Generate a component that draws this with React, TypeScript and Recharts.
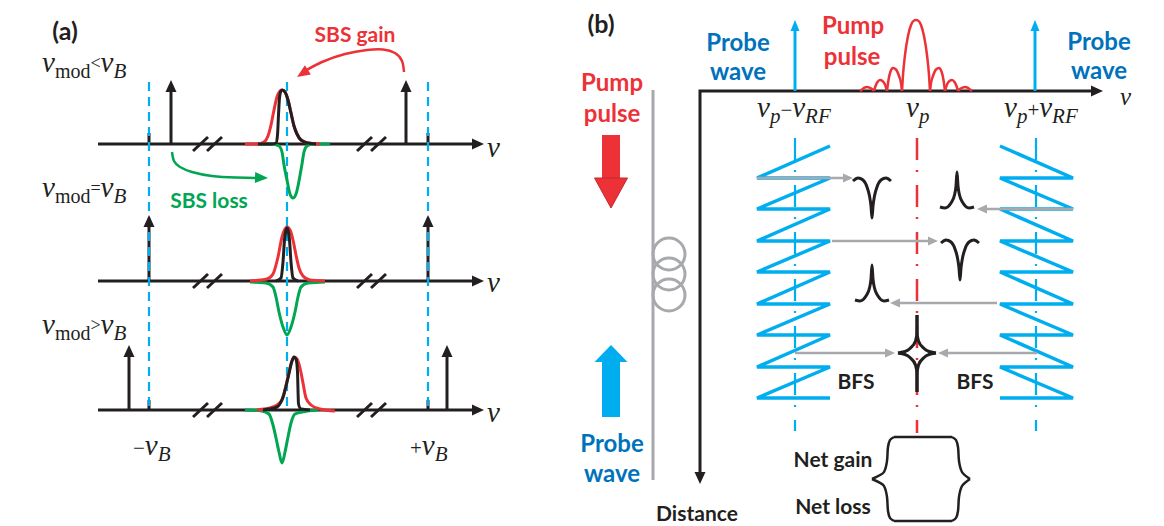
import React from 'react';
import { ComposedChart, Line, Scatter, XAxis, YAxis } from 'recharts';

type Pt = { x: number; y: number };
const toPts = (arr: number[][]): Pt[] => arr.map(([x, y]) => ({ x, y }));

const BLACK = '#231F20';
const RED = '#EC3237';
const GREEN = '#00A651';
const SKY = '#00AEEF';
const BLUE_TEXT = '#0072BC';
const GRAY = '#A7A9AC';
const SANS = 'Lato, "Open Sans", sans-serif';
const SERIF = '"Liberation Serif", "DejaVu Serif", serif';

// ---------------- Panel (a) ----------------
const aRows = [144, 281, 410];
const aAxes = aRows.map((y) => [[98, y], [474, y]]);
const aStems = [
  [[171, 144], [171, 90]], [[406, 144], [406, 90]],
  [[149, 281], [149, 225]], [[428, 281], [428, 225]],
  [[129, 410], [129, 355]], [[447, 410], [447, 355]],
];
const aTicks = [
  [[149, 144], [149, 133]], [[428, 144], [428, 133]],
  [[149, 410], [149, 400]], [[428, 410], [428, 400]],
];
const aSlashes = aRows.flatMap((y) => [
  [[193, y + 7], [208, y - 7]], [[207, y + 7], [222, y - 7]],
  [[357, y + 7], [372, y - 7]], [[371, y + 7], [386, y - 7]],
]);
const aBlueDashed = [[[149, 82], [149, 410]], [[287, 82], [287, 410]], [[428, 82], [428, 410]]];

const redPulses = [
  [[245, 144], [258, 144], [264, 142], [268, 136], [271, 125], [274, 110], [277, 97], [280, 91], [282, 90], [285, 92], [288, 100], [291, 113], [294, 126], [297, 134], [301, 140], [308, 143], [320, 144]],
  [[250, 281], [267, 279], [273, 274], [278, 257], [282, 237], [285, 229], [287, 227], [290, 230], [293, 240], [296, 255], [299, 268], [303, 276], [310, 280], [325, 281]],
  [[257, 410], [273, 407], [282, 400], [287, 381], [291, 364], [294, 357], [297, 359], [300, 368], [303, 383], [306, 398], [311, 405], [320, 409], [335, 411]],
];
const blackPulses = [
  [[258, 144], [272, 144], [276, 143], [277.5, 135], [278.5, 115], [279.5, 98], [281, 91], [282.5, 90], [285, 92], [288, 100], [291, 113], [294, 126], [297, 134], [301, 140], [308, 143], [316, 144]],
  [[276, 281], [281, 278], [283, 262], [284.5, 240], [286, 230], [287, 228], [288, 230], [289.5, 240], [291, 262], [293, 278], [298, 281]],
  [[263, 410], [277, 407], [283, 397], [288, 378], [292, 361], [294, 357], [296, 359], [297.5, 372], [298, 390], [298.5, 404], [301, 409], [310, 410]],
];
const greenPulses = [
  [[257, 144], [272, 144], [279, 146], [282, 152], [284, 165], [287, 180], [290, 194], [293, 198], [296, 194], [299, 181], [302, 164], [304, 152], [307, 146], [313, 144], [330, 144]],
  [[250, 282], [266, 283], [273, 287], [276, 297], [279, 312], [283, 327], [287, 335], [291, 327], [295, 312], [298, 297], [301, 287], [308, 283], [325, 282]],
  [[245, 410], [262, 411], [269, 414], [273, 425], [276, 438], [279, 452], [282, 463], [285, 452], [288, 437], [291, 423], [295, 414], [302, 412], [318, 410]],
];
const gainArrowCurve = [[404, 72], [402, 61], [395, 53], [383, 49.5], [367, 50], [345, 54], [322, 62], [305, 71]];
const lossArrowCurve = [[172, 152], [174, 161], [180, 167], [192, 172], [212, 176], [236, 177.5], [259, 178]];

// ---------------- Panel (b) ----------------
const bAxis = [[1094, 91], [700, 91], [700, 475]];
const bProbeStems = [[[795, 91], [795, 29]], [[1035, 91], [1035, 29]]];
const sincLobes = [
  [[860, 91], [862, 89.5], [864.5, 87.7], [867, 87], [869.5, 87.6], [872, 89], [874, 91]],
  [[874, 91], [875.5, 86], [877.5, 82], [880, 80], [882.5, 81], [885, 84.5], [887, 91]],
  [[887, 91], [888.5, 80], [890.5, 71.5], [893, 68], [896, 69.5], [899, 76], [901, 83], [902, 91]],
  [[902, 91], [903, 75], [905, 55], [908, 36], [911, 25], [914, 20.5], [916, 20], [918, 20.5], [921, 25], [924, 36], [927, 55], [929, 75], [930, 91]],
  [[930, 91], [931, 83], [933, 76], [936, 69.5], [939, 68], [941.5, 71.5], [943.5, 80], [945, 91]],
  [[945, 91], [947, 84.5], [949.5, 81], [952, 80], [954.5, 82], [956.5, 86], [958, 91]],
  [[958, 91], [960, 89], [962.5, 87.6], [965, 87], [967.5, 87.7], [970, 89.5], [972, 91]],
];
const zigLeft = [[830, 146], [757, 178], [830, 178], [757, 209], [830, 209], [757, 241], [830, 241], [757, 272], [830, 272], [757, 304], [830, 304], [757, 335], [830, 335], [757, 367], [830, 367], [757, 398], [830, 398]];
const zigRight = [[1000, 146], [1073, 178], [1000, 178], [1073, 209], [1000, 209], [1073, 241], [1000, 241], [1073, 272], [1000, 272], [1073, 304], [1000, 304], [1073, 335], [1000, 335], [1073, 367], [1000, 367], [1073, 398], [1000, 398]];
const blueCenterLines = [[[795, 138], [795, 431]], [[1036, 138], [1036, 431]]];
const redCenterLine = [[917, 138], [917, 433]];
const grayArrows = [
  [[757, 178], [846, 178]],
  [[832, 241], [931, 241]],
  [[1073, 209], [984, 209]],
  [[997, 303], [897, 303]],
  [[795, 353], [888, 353]],
  [[1037, 353], [945, 353]],
];
const lineshapes = [
  // loss-like (valley) shapes
  [[853, 181], [858, 178], [863, 180], [867, 187], [869.5, 196], [871, 206], [872, 218], [873, 206], [874.5, 196], [877, 187], [881, 180], [886, 178], [891, 181]],
  [[941, 243], [946, 240], [951, 242], [955, 249], [957.5, 258], [959, 268], [960, 280], [961, 268], [962.5, 258], [965, 249], [969, 242], [974, 240], [979, 243]],
  // gain-like (peak) shapes
  [[940, 207], [945, 208], [951, 203], [954.5, 195], [956, 186], [957, 172], [958, 186], [959.5, 195], [963, 203], [969, 208], [974, 207]],
  [[855, 300], [860, 301], [866, 296], [869.5, 288], [871, 279], [872, 265], [873, 279], [874.5, 288], [878, 296], [884, 301], [889, 300]],
];
const starArcs = [
  [[917, 315], [917, 331], [915.5, 341], [911, 347.5], [905, 351.5], [898, 353]],
  [[917, 315], [917, 331], [918.5, 341], [923, 347.5], [929, 351.5], [936, 353]],
  [[898, 353], [905, 354.5], [911, 358.5], [915.5, 365], [917, 375], [917, 392]],
  [[936, 353], [929, 354.5], [923, 358.5], [918.5, 365], [917, 375], [917, 392]],
];
const bracketHalves = [
  [[894, 437], [890, 440], [888, 447], [887, 461], [884, 472], [872, 479]],
  [[872, 479], [884, 486], [887, 497], [888, 511], [890, 518], [894, 521]],
  [[952, 437], [956, 440], [958, 447], [959, 461], [962, 472], [970, 479]],
  [[970, 479], [962, 486], [959, 497], [958, 511], [956, 518], [952, 521]],
];
const bracketEdges = [[[894, 437], [952, 437]], [[894, 521], [952, 521]]];
const fiberLine = [[653, 90], [653, 480]];
const coilLoops = [{ x: 669, y: 254 }, { x: 669, y: 274 }, { x: 669, y: 295 }];
const pumpShaft = [[611, 135], [611, 180]];
const probeShaft = [[611, 417], [611, 360]];

// arrowheads: tip position + direction (deg, 0 = right, 90 = down)
const aHeads = [
  { x: 484, y: 144, a: 0 }, { x: 484, y: 281, a: 0 }, { x: 484, y: 410, a: 0 },
  { x: 171, y: 80, a: -90 }, { x: 406, y: 80, a: -90 },
  { x: 149, y: 215, a: -90 }, { x: 428, y: 215, a: -90 },
  { x: 129, y: 345, a: -90 }, { x: 447, y: 345, a: -90 },
  { x: 1103, y: 91, a: 0 }, { x: 700, y: 484, a: 90 },
];
const gainHead = [{ x: 297, y: 77, a: 147 }];
const lossHead = [{ x: 268, y: 178, a: 2 }];
const skyHeads = [{ x: 795, y: 20, a: -90 }, { x: 1035, y: 20, a: -90 }];
const grayHeads = [
  { x: 853, y: 178, a: 0 }, { x: 938, y: 241, a: 0 }, { x: 977, y: 209, a: 180 },
  { x: 890, y: 303, a: 180 }, { x: 895, y: 353, a: 0 }, { x: 938, y: 353, a: 180 },
];
const pumpHead = [{ x: 611, y: 208, a: 90 }];
const probeHead = [{ x: 611, y: 345, a: -90 }];

// ---------------- Texts ----------------
const panelTags = [{ x: 65, y: 30, t: '(a)' }, { x: 601, y: 23, t: '(b)' }];
const blackWords = [
  { x: 856, y: 380, t: 'BFS' }, { x: 975, y: 380, t: 'BFS' },
  { x: 833, y: 458, t: 'Net gain' }, { x: 833, y: 505, t: 'Net loss' },
  { x: 697, y: 512, t: 'Distance' },
];
const redSmallWords = [{ x: 355, y: 33, t: 'SBS gain' }];
const greenWords = [{ x: 209, y: 199, t: 'SBS loss' }];
const redWords = [
  { x: 853, y: 24, t: 'Pump' }, { x: 852, y: 55, t: 'pulse' },
  { x: 612, y: 81, t: 'Pump' }, { x: 612, y: 112, t: 'pulse' },
];
const blueWords = [
  { x: 738, y: 41, t: 'Probe' }, { x: 738, y: 70, t: 'wave' },
  { x: 1099, y: 40, t: 'Probe' }, { x: 1099, y: 69, t: 'wave' },
  { x: 612, y: 442, t: 'Probe' }, { x: 612, y: 472, t: 'wave' },
];
// math labels: [text, kind] kinds: v = variable, va = axis variable, s = subscript, si = italic subscript, o = raised operator, n = operator
const mathLabels = [
  { x: 42, y: 72, parts: [['ν', 'v'], ['mod', 's'], ['<', 'o'], ['ν', 'v'], ['B', 'si']] },
  { x: 42, y: 197, parts: [['ν', 'v'], ['mod', 's'], ['=', 'o'], ['ν', 'v'], ['B', 'si']] },
  { x: 42, y: 334, parts: [['ν', 'v'], ['mod', 's'], ['>', 'o'], ['ν', 'v'], ['B', 'si']] },
  { x: 133, y: 455, parts: [['−', 'n'], ['ν', 'v'], ['B', 'si']] },
  { x: 410, y: 455, parts: [['+', 'n'], ['ν', 'v'], ['B', 'si']] },
  { x: 487, y: 157, parts: [['ν', 'v']] },
  { x: 487, y: 292, parts: [['ν', 'v']] },
  { x: 487, y: 422, parts: [['ν', 'v']] },
  { x: 1120, y: 105, parts: [['ν', 'va']] },
  { x: 757, y: 117, parts: [['ν', 'v'], ['p', 'si'], ['−', 'n'], ['ν', 'v'], ['RF', 'si']] },
  { x: 906, y: 117, parts: [['ν', 'v'], ['p', 'si']] },
  { x: 1004, y: 117, parts: [['ν', 'v'], ['p', 'si'], ['+', 'n'], ['ν', 'v'], ['RF', 'si']] },
];

const kindStyle: Record<string, { size: number; italic: boolean; off: number }> = {
  v: { size: 29, italic: true, off: 0 },
  va: { size: 25, italic: true, off: 0 },
  s: { size: 20, italic: false, off: 6 },
  si: { size: 21, italic: true, off: 6 },
  o: { size: 18, italic: false, off: -3 },
  n: { size: 21, italic: false, off: 0 },
};

const MathShape = (props: any) => {
  const { cx, cy, payload } = props;
  let cur = 0;
  return (
    <text x={cx} y={cy} fontFamily={SERIF} fill={BLACK}>
      {payload.parts.map((p: string[], i: number) => {
        const st = kindStyle[p[1]];
        const dy = st.off - cur;
        cur = st.off;
        return (
          <tspan key={i} dy={dy} fontSize={st.size} fontStyle={st.italic ? 'italic' : 'normal'}>
            {p[0]}
          </tspan>
        );
      })}
    </text>
  );
};

const textShape = (fill: string, size: number) => (props: any) => {
  const { cx, cy, payload } = props;
  return (
    <text x={cx} y={cy} textAnchor="middle" dominantBaseline="central" fontFamily={SANS} fontWeight={700} fontSize={size} fill={fill}>
      {payload.t}
    </text>
  );
};

const headShape = (fill: string, len: number, wid: number, stroke?: string) => (props: any) => {
  const { cx, cy, payload } = props;
  return (
    <polygon
      transform={`translate(${cx},${cy}) rotate(${payload.a})`}
      points={`0,0 ${-len},${-wid / 2} ${-len},${wid / 2}`}
      fill={fill}
      stroke={stroke || 'none'}
      strokeWidth={stroke ? 1 : 0}
    />
  );
};

const circleShape = (props: any) => {
  const { cx, cy } = props;
  return <circle cx={cx} cy={cy} r={16} fill="none" stroke={GRAY} strokeWidth={3} />;
};

let keyCounter = 0;
const seg = (arr: number[][], stroke: string, width: number, extra: any = {}) => (
  <Line
    key={`l${keyCounter++}`}
    data={toPts(arr)}
    dataKey="y"
    type="linear"
    stroke={stroke}
    strokeWidth={width}
    dot={false}
    activeDot={false}
    isAnimationActive={false}
    legendType="none"
    {...extra}
  />
);

const sc = (data: any[], shape: any) => (
  <Scatter key={`s${keyCounter++}`} data={data} shape={shape} isAnimationActive={false} legendType="none" />
);

export default function App() {
  keyCounter = 0;
  const dashDot = '22 10 2 13';
  return (
    <div style={{ position: 'absolute', left: 0, top: 0, width: 1164, height: 526, background: '#fff' }}>
      <ComposedChart width={1164} height={526} margin={{ top: 0, right: 0, bottom: 0, left: 0 }}>
        <XAxis type="number" dataKey="x" domain={[0, 1164]} hide allowDataOverflow />
        <YAxis type="number" dataKey="y" domain={[0, 526]} reversed hide allowDataOverflow />

        {/* panel (a) */}
        {aAxes.map((a) => seg(a, BLACK, 3))}
        {aStems.map((a) => seg(a, BLACK, 3))}
        {aTicks.map((a) => seg(a, BLACK, 3))}
        {aSlashes.map((a) => seg(a, BLACK, 3))}
        {aBlueDashed.map((a) => seg(a, SKY, 2.2, { strokeDasharray: '9 6' }))}
        {greenPulses.map((a) => seg(a, GREEN, 3, { type: 'monotoneX' }))}
        {redPulses.map((a) => seg(a, RED, 3, { type: 'monotoneX' }))}
        {blackPulses.map((a) => seg(a, BLACK, 3, { type: 'monotoneX' }))}
        {seg(gainArrowCurve, RED, 2.5, { type: 'natural' })}
        {seg(lossArrowCurve, GREEN, 2.5, { type: 'natural' })}

        {/* panel (b) */}
        {seg(fiberLine, GRAY, 3)}
        {seg(pumpShaft, RED, 18)}
        {seg(probeShaft, SKY, 18)}
        {seg(bAxis, BLACK, 3)}
        {bProbeStems.map((a) => seg(a, SKY, 3))}
        {sincLobes.map((a) => seg(a, RED, 2.5, { type: 'monotoneX' }))}
        {blueCenterLines.map((a) => seg(a, SKY, 2.2, { strokeDasharray: dashDot }))}
        {seg(redCenterLine, RED, 2.5, { strokeDasharray: dashDot })}
        {seg(zigLeft, SKY, 3.5)}
        {seg(zigRight, SKY, 3.5)}
        {grayArrows.map((a) => seg(a, GRAY, 2.5))}
        {lineshapes.map((a) => seg(a, BLACK, 3, { type: 'monotoneX' }))}
        {starArcs.map((a) => seg(a, BLACK, 3, { type: 'monotoneY' }))}
        {bracketHalves.map((a) => seg(a, BLACK, 2.5, { type: 'monotoneY' }))}
        {bracketEdges.map((a) => seg(a, BLACK, 2.5))}

        {sc(aHeads, headShape(BLACK, 12, 11))}
        {sc(gainHead, headShape(RED, 13, 11))}
        {sc(lossHead, headShape(GREEN, 13, 11))}
        {sc(skyHeads, headShape(SKY, 11, 9))}
        {sc(grayHeads, headShape(GRAY, 10, 9))}
        {sc(pumpHead, headShape(RED, 30, 33, '#C4262C'))}
        {sc(probeHead, headShape(SKY, 17, 33))}
        {sc(coilLoops, circleShape)}

        {sc(panelTags, textShape(BLACK, 25))}
        {sc(blackWords, textShape(BLACK, 21))}
        {sc(redSmallWords, textShape(RED, 21))}
        {sc(greenWords, textShape(GREEN, 21))}
        {sc(redWords, textShape(RED, 24))}
        {sc(blueWords, textShape(BLUE_TEXT, 24))}
        {sc(mathLabels, MathShape)}
      </ComposedChart>
    </div>
  );
}
